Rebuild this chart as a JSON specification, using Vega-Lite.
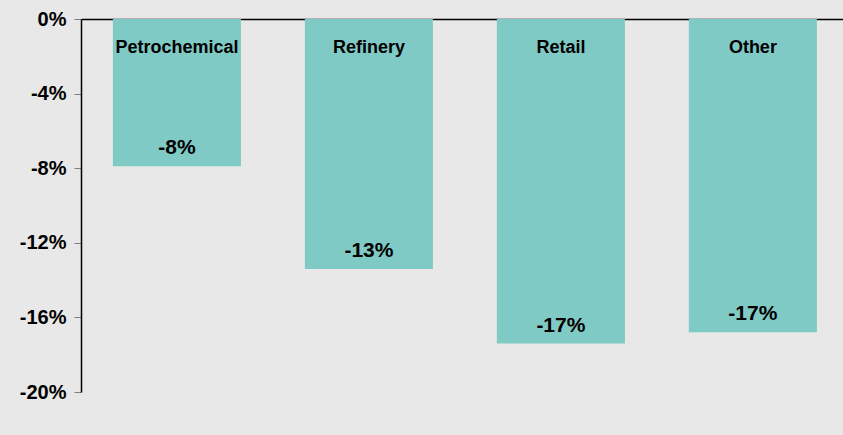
{
  "$schema": "https://vega.github.io/schema/vega-lite/v6.json",
  "width": 762,
  "height": 373,
  "autosize": {"type": "none"},
  "padding": {"left": 81, "top": 19, "right": 0, "bottom": 43},
  "background": "#e7e8e7",
  "config": {
    "view": {"stroke": null},
    "font": "Liberation Sans"
  },
  "data": {
    "values": [
      {"segment": "Petrochemical", "change": -7.9, "label": "-8%"},
      {"segment": "Refinery", "change": -13.4, "label": "-13%"},
      {"segment": "Retail", "change": -17.4, "label": "-17%"},
      {"segment": "Other", "change": -16.8, "label": "-17%"}
    ]
  },
  "encoding": {
    "x": {
      "field": "segment",
      "type": "nominal",
      "sort": null,
      "scale": {"paddingInner": 0.333, "paddingOuter": 0.151, "align": 0.55},
      "axis": {
        "orient": "top",
        "title": null,
        "labels": false,
        "ticks": false,
        "domain": true,
        "domainColor": "#000000",
        "domainWidth": 1.5
      }
    }
  },
  "layer": [
    {
      "mark": {"type": "bar", "color": "#80cac5"},
      "encoding": {
        "y": {
          "field": "change",
          "type": "quantitative",
          "scale": {"domain": [-20, 0], "nice": false, "zero": true},
          "axis": {
            "title": null,
            "values": [0, -4, -8, -12, -16, -20],
            "labelExpr": "datum.value + '%'",
            "grid": false,
            "tickSize": 7,
            "tickColor": "#808080",
            "domainColor": "#000000",
            "domainWidth": 1.5,
            "labelPadding": 8,
            "labelFontSize": 20,
            "labelFontWeight": "bold",
            "labelColor": "#000000"
          }
        }
      }
    },
    {
      "mark": {"type": "text", "fontSize": 18, "fontWeight": "bold", "color": "#000000", "baseline": "middle", "dy": 29},
      "encoding": {
        "y": {"datum": 0, "type": "quantitative"},
        "text": {"field": "segment"}
      }
    },
    {
      "mark": {"type": "text", "fontSize": 21, "fontWeight": "bold", "color": "#000000", "baseline": "middle", "dy": -18},
      "encoding": {
        "y": {"field": "change", "type": "quantitative"},
        "text": {"field": "label"}
      }
    }
  ]
}
